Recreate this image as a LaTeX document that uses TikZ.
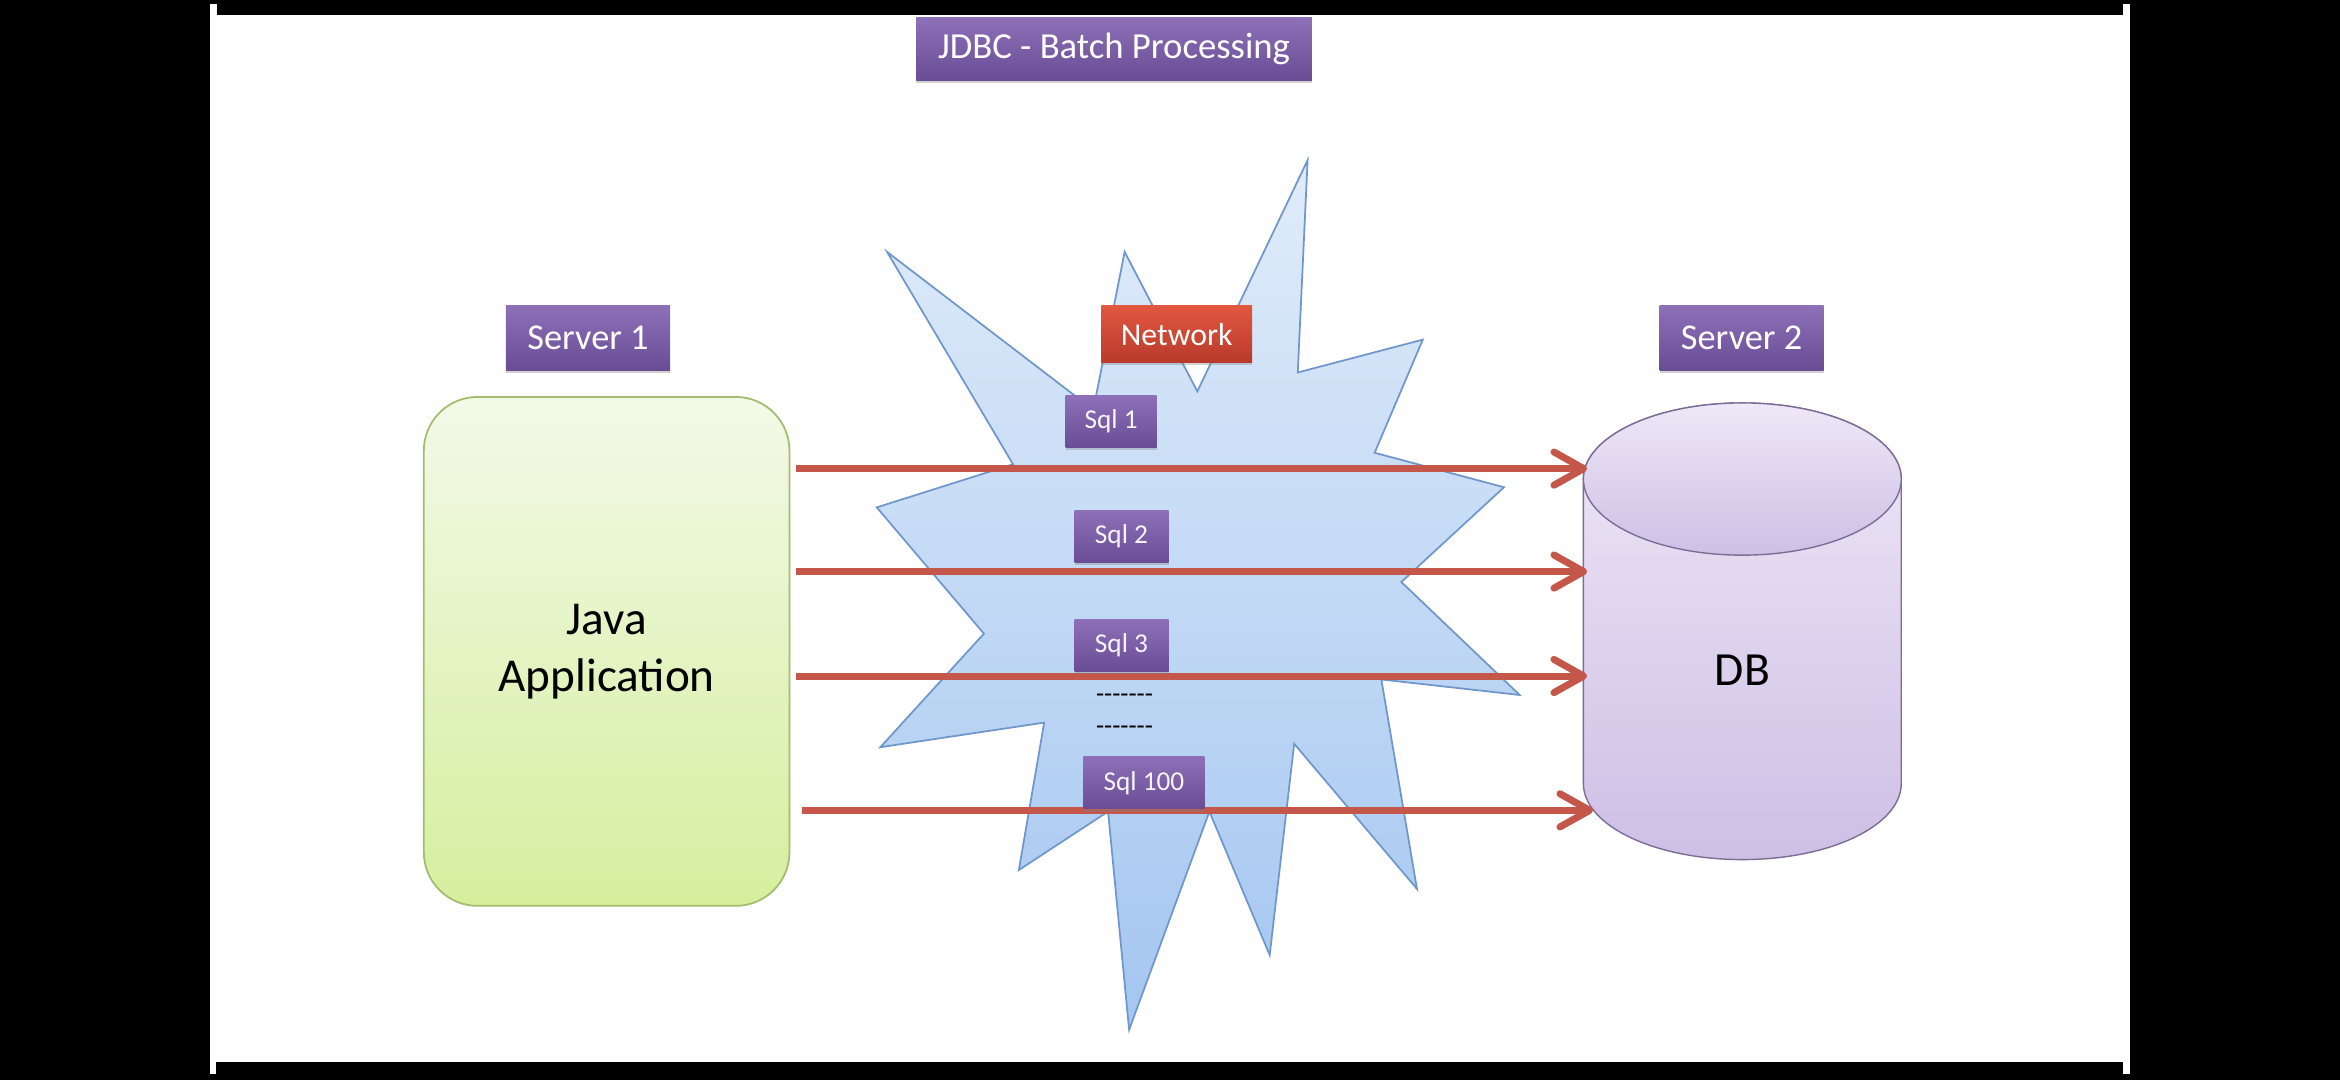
\documentclass[tikz,border=0pt]{standalone}
\usepackage{fontspec}
\setmainfont{Carlito}
\usetikzlibrary{arrows.meta,positioning,shadows,calc}

\definecolor{purpletop}{HTML}{8D70B8}
\definecolor{purplebot}{HTML}{684C94}
\definecolor{nettop}{HTML}{E2573F}
\definecolor{netbot}{HTML}{B83A2B}
\definecolor{arrowred}{HTML}{C4574A}
\definecolor{apptop}{HTML}{F3F9E8}
\definecolor{appbot}{HTML}{D5EF9E}
\definecolor{appline}{HTML}{A3BC6E}
\definecolor{dbtop}{HTML}{EEE8F7}
\definecolor{dbbot}{HTML}{CEBFE5}
\definecolor{dbline}{HTML}{7C6D97}
\definecolor{bursttop}{HTML}{E0ECFA}
\definecolor{burstbot}{HTML}{A4C6F0}
\definecolor{burstline}{HTML}{7097CC}

\newcommand{\gapline}{-\kern0pt-\kern0pt-\kern0pt-\kern0pt-\kern0pt-\kern0pt-}

\begin{document}
\begin{tikzpicture}[x=0.15mm, y=0.15mm,
tag/.style={top color=purpletop, bottom color=purplebot, text=white, inner sep=0pt,
  drop shadow={shadow xshift=0pt, shadow yshift=-0.8pt, opacity=0.35}},
heading/.style={tag, minimum width=39.75mm, minimum height=6.3mm, font=\fontsize{10.5}{12}\selectfont},
server/.style={tag, minimum width=16.5mm, minimum height=6.45mm, font=\fontsize{10.4}{12}\selectfont},
sql/.style={tag, text=white!92!purpletop, minimum height=5.25mm, font=\fontsize{7.8}{9}\selectfont},
net/.style={tag, top color=nettop, bottom color=netbot, minimum width=15.15mm, minimum height=5.7mm, font=\fontsize{9.1}{11}\selectfont},
gap/.style={inner sep=0pt, font=\fontsize{7.6}{9}\selectfont},
app/.style={rounded corners=5.4mm, top color=apptop, bottom color=appbot, draw=appline, line width=0.5pt,
  minimum width=36.75mm, minimum height=51.15mm, align=center, font=\fontsize{13.5}{16.2}\selectfont},
dbshape/.style={top color=dbtop, bottom color=dbbot, draw=dbline, line width=0.4pt},
dbname/.style={inner sep=0pt, minimum width=31.95mm, font=\fontsize{13.6}{16}\selectfont},
burst/.style={top color=bursttop, bottom color=burstbot, draw=burstline, line width=0.5pt},
sqlarrow/.style={draw=arrowred, line width=2pt, -{Straight Barb[length=8.5pt,width=9.5pt,round]}}
]
% slide
\fill[black] (0,0) rectangle (1568,724);
\fill[white] (140.7,4.2) rectangle (1427.3,721.3);
\fill[black] (145.2,714) rectangle (1422.4,724);
\fill[black] (144.7,0) rectangle (1422.4,12.3);

% network cloud
\path[burst] (594.4,555.2) -- (732.6,449.4) -- (753.6,555.2) -- (802.3,461.7) -- (876.2,616.7)
  -- (869.6,474.4) -- (953.4,496.4) -- (921.1,420.6) -- (1007.8,397.5) -- (939,334)
  -- (1018.3,258.3) -- (925.6,268.7) -- (949.5,128.3) -- (867.2,225.6) -- (850.8,84)
  -- (810.4,180.2) -- (756.6,34) -- (742.5,180.2) -- (682.7,141) -- (699.7,239.8)
  -- (589.9,223.3) -- (659.3,299.4) -- (587.5,384) -- (678.8,412.9) -- cycle;

% server 1
\node[app] (java) at (406.5,287.5) {Java\\Application};

% server 2
\path[dbshape] (1061,403) -- (1061,199) arc[start angle=180, end angle=360, x radius=106.5, y radius=51]
  -- (1274,403) arc[start angle=0, end angle=180, x radius=106.5, y radius=51] -- cycle;
\path[dbshape, fill=dbtop] (1167.5,403) ellipse[x radius=106.5, y radius=51];
\node[dbname] (db) at (1167.5,275) {DB};

\foreach \yy/\ds/\de in {410/4/3, 341/4/3, 271/4/3, 181/8/7}
  \draw[sqlarrow] ($(java.east |- 0,\yy)+(\ds,0)$) -- ($(db.west |- 0,\yy)+(\de,0)$);

\node[heading] (title) at (746.5,691) {JDBC - Batch Processing};
\node[server] (server1) at (394,497.5) {Server 1};
\node[server] (server2) at (1167,497.5) {Server 2};
\node[net] (network) at (788.5,500) {Network};
\node[sql, minimum width=9.15mm] (sql1) at (744.5,441.5) {Sql 1};
\node[sql, minimum width=9.45mm] (sql2) at (751.5,364.5) {Sql 2};
\node[sql, minimum width=9.45mm] (sql3) at (751.5,291.5) {Sql 3};
\node[gap] (gap1) at (753.5,256.4) {\gapline};
\node[gap] (gap2) at (753.5,234.8) {\gapline};
\node[sql, minimum width=12.15mm] (sql100) at (766.5,199.5) {Sql 100};
\end{tikzpicture}
\end{document}
